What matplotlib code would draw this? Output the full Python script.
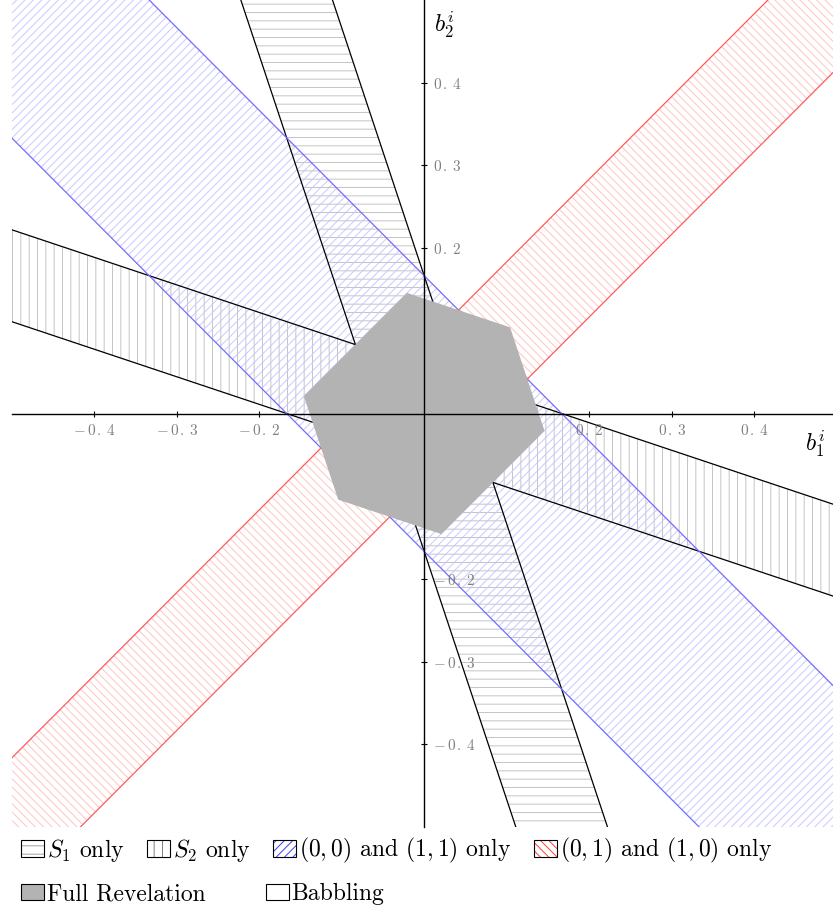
import matplotlib.pyplot as plt
from matplotlib.patches import Patch, Polygon
import numpy as np

plt.rcParams['font.family'] = 'serif'
plt.rcParams['font.serif'] = ['cmr10']
plt.rcParams['mathtext.fontset'] = 'cm'
plt.rcParams['axes.formatter.use_mathtext'] = True
plt.rcParams['hatch.linewidth'] = 0.7

# each region is a band |y - slope * x| <= half
s1_slope, s1_half = -3.0, 1 / 6
s2_slope, s2_half = -1 / 3, 1 / 18
blue_slope, blue_half = -1.0, 1 / 6
red_slope, red_half = 1.0, 1 / 12

# full revelation hexagon
hex_x = [5 / 48, 7 / 48, 1 / 48, -5 / 48, -7 / 48, -1 / 48]
hex_y = [5 / 48, -1 / 48, -7 / 48, -5 / 48, 1 / 48, 7 / 48]

ticks = [-0.4, -0.3, -0.2, -0.1, 0.1, 0.2, 0.3, 0.4]
tick_labels = [r'$-\,0\,.\,4$', r'$-\,0\,.\,3$', r'$-\,0\,.\,2$', r'$-\,0\,.\,1$',
               r'$0\,.\,1$', r'$0\,.\,2$', r'$0\,.\,3$', r'$0\,.\,4$']

legend_row1 = [r'$S_1$ only', r'$S_2$ only',
               r'$(0,0)$ and $(1,1)$ only', r'$(0,1)$ and $(1,0)$ only']
legend_row2 = ['Full Revelation', 'Babbling']

fig = plt.figure(figsize=(8.33, 9.09), dpi=100)
ax = fig.add_axes([0.014, 0.0902, 0.9904, 0.9098])

x = np.array([-0.8, 0.8])
bands = [
    (s1_slope, s1_half, '--', '#c4c4c4', 'black'),
    (s2_slope, s2_half, '||', '#c4c4c4', 'black'),
    (blue_slope, blue_half, '////', '#c8c8ff', '#6f6fff'),
    (red_slope, red_half, '\\\\\\\\', '#ffc4c4', '#ff5a5a'),
]
for slope, half, hatch, hcol, lcol in bands:
    ax.fill_between(x, slope * x - half, slope * x + half, facecolor='none',
                    edgecolor=hcol, hatch=hatch, linewidth=0, zorder=1)
    ax.plot(x, slope * x - half, color=lcol, lw=0.9, zorder=1.5)
    ax.plot(x, slope * x + half, color=lcol, lw=0.9, zorder=1.5)

ax.add_patch(Polygon(np.column_stack([hex_x, hex_y]), closed=True,
                     facecolor='#b3b3b3', edgecolor='none', zorder=2))

ax.set_xlim(-0.5, 0.5)
ax.set_ylim(-0.5, 0.5)

ax.spines['left'].set_position('zero')
ax.spines['bottom'].set_position('zero')
ax.spines['right'].set_position('zero')
ax.spines['right'].set_visible(False)
ax.spines['top'].set_visible(False)
for sp in ['left', 'bottom']:
    ax.spines[sp].set_linewidth(1.0)
    ax.spines[sp].set_zorder(3)

ax.set_xticks(ticks)
ax.set_xticklabels(tick_labels)
ax.set_yticks(ticks)
ax.set_yticklabels(tick_labels)
ax.tick_params(axis='x', direction='inout', length=5, width=0.8, pad=4,
               labelsize=11, labelcolor='#808080')
ax.tick_params(axis='y', direction='inout', length=5, width=0.8, pad=4,
               left=False, right=True, labelleft=False, labelright=True,
               labelsize=11, labelcolor='#808080')

ax.text(0.012, 0.47, r'$b_2^i$', fontsize=17, ha='left', va='center')
ax.text(0.474, -0.036, r'$b_1^i$', fontsize=17, ha='center', va='center')

h1 = [
    (Patch(facecolor='white', edgecolor='#a0a0a0', hatch='--', lw=0),
     Patch(facecolor='none', edgecolor='black', lw=0.8)),
    (Patch(facecolor='white', edgecolor='#808080', hatch='||', lw=0),
     Patch(facecolor='none', edgecolor='black', lw=0.8)),
    (Patch(facecolor='white', edgecolor='#3c3cff', hatch='////', lw=0),
     Patch(facecolor='none', edgecolor='black', lw=0.8)),
    (Patch(facecolor='white', edgecolor='#ff3c3c', hatch='\\\\\\\\', lw=0),
     Patch(facecolor='none', edgecolor='black', lw=0.8)),
]
h2 = [Patch(facecolor='#b3b3b3', edgecolor='black', lw=0.8),
      Patch(facecolor='white', edgecolor='black', lw=0.8)]

leg_kw = dict(frameon=False, fontsize=17, handlelength=1.0, handleheight=0.68,
              handletextpad=0.1, borderpad=0, borderaxespad=0, loc='center left')
leg1 = fig.legend(h1, legend_row1, ncol=4, columnspacing=0.95,
                  bbox_to_anchor=(0.025, 0.064), **leg_kw)
leg2 = fig.legend(h2, legend_row2, ncol=2, columnspacing=2.55,
                  bbox_to_anchor=(0.025, 0.0165), **leg_kw)

fig.savefig('out.png', dpi=100)
